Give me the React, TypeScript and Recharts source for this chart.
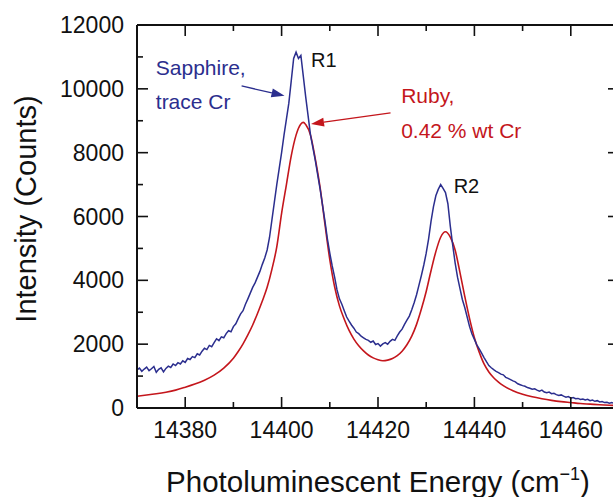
import React from 'react';
import { LineChart, Line, XAxis, YAxis, ReferenceLine, ReferenceDot, Label } from 'recharts';

const FONT = '"Liberation Sans", Arial, Helvetica, sans-serif';

// Axis ticks
const xTicks = [14380, 14390, 14400, 14410, 14420, 14430, 14440, 14450, 14460];
const xLabelTicks = [14380, 14400, 14420, 14440, 14460];
const yTicks = [0, 1000, 2000, 3000, 4000, 5000, 6000, 7000, 8000, 9000, 10000, 11000, 12000];
const yLabelTicks = [0, 2000, 4000, 6000, 8000, 10000, 12000];
const xDomain = [14370, 14470];
const yDomain = [0, 12000];

// Sapphire (trace Cr) spectrum: sampled every 0.5 cm^-1 from 14370
const sapphireStart = 14370;
const sapphireStep = 0.5;
const sapphireCounts = [
  1190, 1250, 1150, 1220, 1280, 1170, 1230, 1300, 1120, 1210,
  1260, 1130, 1240, 1310, 1270, 1380, 1330, 1420, 1380, 1480,
  1430, 1550, 1520, 1610, 1580, 1700, 1660, 1780, 1870, 1830,
  1960, 1920, 2050, 2170, 2110, 2230, 2200, 2330, 2420, 2390,
  2550, 2640, 2800, 2950, 3050, 3250, 3420, 3600, 3780, 3920,
  4100, 4280, 4500, 4700, 4950, 5350, 5900, 6450, 7000, 7500,
  8000, 8550, 9050, 9550, 10250, 10950, 11150, 10950, 11050, 10400,
  9750, 9150, 8550, 8150, 7750, 7300, 6850, 6350, 5850, 5300,
  4850, 4450, 4100, 3700, 3420, 3250, 3050, 2850, 2720, 2600,
  2500, 2380, 2330, 2250, 2200, 2150, 2120, 2060, 2100, 1990,
  2020, 1940, 2010, 2050, 2000, 2090, 2150, 2120, 2260, 2380,
  2470, 2620, 2750, 2880, 3080, 3300, 3550, 3850, 4150, 4480,
  4850, 5300, 5850, 6300, 6650, 6850, 7000, 6880, 6750, 6400,
  5700, 5100, 4550, 4100, 3750, 3400, 3150, 2850, 2550, 2320,
  2150, 1980, 1850, 1720, 1580, 1450, 1330, 1260, 1200, 1150,
  1110, 1060, 1040, 960, 930, 890, 850, 820, 760, 730,
  700, 680, 640, 620, 590, 600, 560, 530, 560, 500,
  480, 500, 450, 460, 420, 390, 410, 370, 340, 360,
  310, 330, 290, 300, 270, 280, 250, 270, 230, 250,
  210, 230, 190, 200, 170, 180, 150, 170, 140, 150,
  130,
];

// Ruby (0.42 % wt Cr) spectrum
const rubyEnergy = [
  14370, 14372, 14374, 14376, 14378, 14380, 14382, 14384, 14386, 14388,
  14390, 14391, 14392, 14393, 14394, 14395, 14396, 14397, 14398, 14399,
  14400, 14401, 14402, 14403, 14404, 14404.5, 14405, 14406, 14407, 14408,
  14409, 14410, 14411, 14412, 14413, 14414, 14415, 14416, 14417, 14418,
  14419, 14420, 14421, 14422, 14423, 14424, 14425, 14426, 14427, 14428,
  14429, 14430, 14431, 14432, 14433, 14434, 14435, 14436, 14437, 14438,
  14439, 14440, 14441, 14442, 14443, 14444, 14445, 14446, 14448, 14450,
  14452, 14454, 14456, 14458, 14460, 14462, 14464, 14466, 14468, 14470,
];
const rubyCounts = [
  370, 405, 445, 495, 560, 650, 750, 870, 1030, 1250,
  1560, 1770, 2010, 2290, 2600, 2960, 3350, 3780, 4350, 5050,
  6100, 7000, 7900, 8550, 8900, 8950, 8880, 8550, 7800, 6900,
  5750, 4650, 3800, 3200, 2780, 2430, 2160, 1950, 1790, 1660,
  1570, 1510, 1480, 1500, 1550, 1640, 1780, 1980, 2250, 2620,
  3100, 3650, 4300, 4900, 5350, 5520, 5350, 4950, 4250, 3500,
  2800, 2200, 1750, 1380, 1130, 950, 810, 700, 540, 430,
  350, 290, 240, 200, 170, 140, 120, 100, 85, 75,
];

// Annotations (data coordinates)
const sapphireLabel = { x: 14373.9, lines: ['Sapphire,', 'trace Cr'], y: [10420, 9360] };
const rubyLabel = { x: 14424.8, lines: ['Ruby,', '0.42 % wt Cr'], y: [9550, 8450] };
const peakLabels = [
  { name: 'R1', x: 14406.1, y: 10690 },
  { name: 'R2', x: 14435.7, y: 6730 },
];
const sapphireArrow = [{ x: 14391.7, y: 10090 }, { x: 14400.6, y: 9780 }];
const rubyArrow = [{ x: 14422.6, y: 9250 }, { x: 14406.1, y: 8900 }];

const BLUE = '#2b2e8e';
const RED = '#c4161c';
const INK = '#111';

const sapphireData = sapphireCounts.map((c, i) => ({ x: sapphireStart + i * sapphireStep, y: c }));
const rubyData = rubyEnergy.map((e, i) => ({ x: e, y: rubyCounts[i] }));

const MAJOR = 11;
const MINOR = 6;

const BottomTick = (props: any) => {
  const { x, y, payload } = props;
  const major = xLabelTicks.includes(payload.value);
  return (
    <g>
      <line x1={x} x2={x} y1={y} y2={y - (major ? MAJOR : MINOR)} stroke={INK} strokeWidth={1.6} />
      {major && (
        <text x={x} y={y + 30} textAnchor="middle" fontSize={23} fontFamily={FONT} fill={INK}>
          {payload.value}
        </text>
      )}
    </g>
  );
};

const TopTick = (props: any) => {
  const { x, y, payload } = props;
  const major = xLabelTicks.includes(payload.value);
  return <line x1={x} x2={x} y1={y} y2={y + (major ? MAJOR : MINOR)} stroke={INK} strokeWidth={1.6} />;
};

const LeftTick = (props: any) => {
  const { x, y, payload } = props;
  const major = yLabelTicks.includes(payload.value);
  return (
    <g>
      <line x1={x} x2={x + (major ? MAJOR : MINOR)} y1={y} y2={y} stroke={INK} strokeWidth={1.6} />
      {major && (
        <text x={x - 13} y={y + 8} textAnchor="end" fontSize={23} fontFamily={FONT} fill={INK}>
          {payload.value}
        </text>
      )}
    </g>
  );
};

const RightTick = (props: any) => {
  const { x, y, payload } = props;
  const major = yLabelTicks.includes(payload.value);
  return <line x1={x} x2={x - (major ? MAJOR : MINOR)} y1={y} y2={y} stroke={INK} strokeWidth={1.6} />;
};

const makeArrow = (color: string) => (props: any) => {
  const { x1, y1, x2, y2 } = props;
  const dx = x2 - x1;
  const dy = y2 - y1;
  const len = Math.sqrt(dx * dx + dy * dy) || 1;
  const ux = dx / len;
  const uy = dy / len;
  const headLen = 13;
  const headHalf = 4.5;
  const bx = x2 - ux * headLen;
  const by = y2 - uy * headLen;
  const px = -uy * headHalf;
  const py = ux * headHalf;
  return (
    <g>
      <line x1={x1} y1={y1} x2={bx} y2={by} stroke={color} strokeWidth={1.3} />
      <polygon points={`${x2},${y2} ${bx + px},${by + py} ${bx - px},${by - py}`} fill={color} />
    </g>
  );
};

const textDot = (text: string, color: string, size: number) => (props: any) => (
  <text x={props.cx} y={props.cy} fontSize={size} fontFamily={FONT} fill={color}>
    {text}
  </text>
);

const XTitle = (props: any) => {
  const vb = props.viewBox || { x: 137, y: 408, width: 482, height: 1 };
  return (
    <text x={vb.x + vb.width / 2} y={vb.y + 84} textAnchor="middle" fontSize={29.5} fontFamily={FONT} fill={INK}>
      Photoluminescent Energy (cm
      <tspan fontSize={18} dy={-12}>−1</tspan>
      <tspan dy={12}>)</tspan>
    </text>
  );
};

const YTitle = (props: any) => {
  const vb = props.viewBox || { x: 136, y: 25, width: 1, height: 383 };
  const cx = vb.x + vb.width - 101;
  const cy = vb.y + vb.height / 2 - 7.5;
  return (
    <text
      x={cx}
      y={cy}
      transform={`rotate(-90, ${cx}, ${cy})`}
      textAnchor="middle"
      fontSize={29}
      fontFamily={FONT}
      fill={INK}
    >
      Intensity (Counts)
    </text>
  );
};

export default function App() {
  return (
    <div
      style={{
        position: 'absolute',
        left: 0,
        top: 0,
        width: 613,
        height: 497,
        overflow: 'hidden',
        background: '#fff',
      }}
    >
      <LineChart width={630} height={497} margin={{ top: 24, right: 10, bottom: 88, left: 136 }}>
        <XAxis
          dataKey="x"
          type="number"
          domain={xDomain}
          ticks={xTicks}
          interval={0}
          allowDataOverflow
          height={1}
          tickSize={0}
          tickMargin={0}
          tickLine={false}
          tick={BottomTick}
          axisLine={{ stroke: INK, strokeWidth: 2 }}
        >
          <Label content={XTitle} />
        </XAxis>
        <XAxis
          xAxisId="top"
          orientation="top"
          dataKey="x"
          type="number"
          domain={xDomain}
          ticks={xTicks}
          interval={0}
          allowDataOverflow
          height={1}
          tickSize={0}
          tickMargin={0}
          tickLine={false}
          tick={TopTick}
          axisLine={{ stroke: INK, strokeWidth: 2 }}
        />
        <YAxis
          type="number"
          domain={yDomain}
          ticks={yTicks}
          interval={0}
          allowDataOverflow
          width={1}
          tickSize={0}
          tickMargin={0}
          tickLine={false}
          tick={LeftTick}
          axisLine={{ stroke: INK, strokeWidth: 2 }}
        >
          <Label content={YTitle} />
        </YAxis>
        <YAxis
          yAxisId="right"
          orientation="right"
          type="number"
          domain={yDomain}
          ticks={yTicks}
          interval={0}
          allowDataOverflow
          width={1}
          tickSize={0}
          tickMargin={0}
          tickLine={false}
          tick={RightTick}
          axisLine={{ stroke: INK, strokeWidth: 2 }}
        />
        <Line
          data={rubyData}
          dataKey="y"
          type="monotone"
          stroke={RED}
          strokeWidth={1.6}
          dot={false}
          activeDot={false}
          isAnimationActive={false}
        />
        <Line
          data={sapphireData}
          dataKey="y"
          type="linear"
          stroke={BLUE}
          strokeWidth={1.5}
          dot={false}
          activeDot={false}
          isAnimationActive={false}
        />
        <ReferenceLine segment={sapphireArrow} shape={makeArrow(BLUE)} ifOverflow="visible" />
        <ReferenceLine segment={rubyArrow} shape={makeArrow(RED)} ifOverflow="visible" />
        {sapphireLabel.lines.map((t, i) => (
          <ReferenceDot
            key={'s' + i}
            x={sapphireLabel.x}
            y={sapphireLabel.y[i]}
            r={0}
            ifOverflow="visible"
            shape={textDot(t, BLUE, 21)}
          />
        ))}
        {rubyLabel.lines.map((t, i) => (
          <ReferenceDot
            key={'r' + i}
            x={rubyLabel.x}
            y={rubyLabel.y[i]}
            r={0}
            ifOverflow="visible"
            shape={textDot(t, RED, 21)}
          />
        ))}
        {peakLabels.map((p) => (
          <ReferenceDot key={p.name} x={p.x} y={p.y} r={0} ifOverflow="visible" shape={textDot(p.name, INK, 20)} />
        ))}
      </LineChart>
    </div>
  );
}
